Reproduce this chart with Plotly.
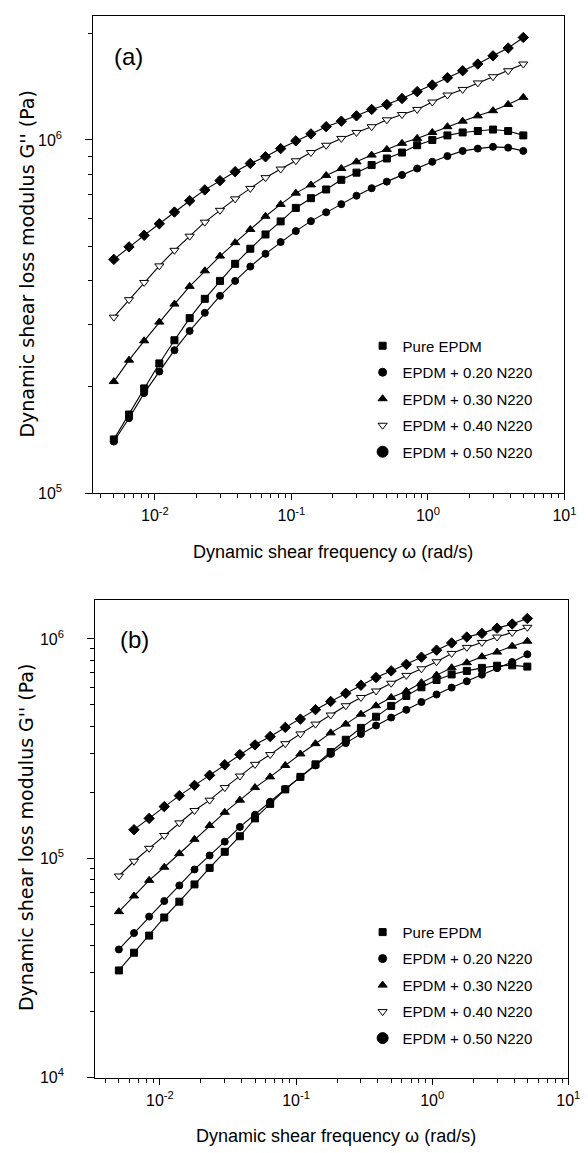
import plotly.graph_objects as go

# angular frequency, rad/s (same grid for both panels)
omega = [0.005, 0.00646, 0.00834, 0.01077, 0.0139, 0.01797, 0.0232, 0.02997, 0.0387,
         0.05, 0.0646, 0.0834, 0.1077, 0.139, 0.1797, 0.232, 0.2997, 0.387,
         0.5, 0.646, 0.834, 1.077, 1.39, 1.797, 2.32, 2.997, 3.87, 5.0]

names = ["Pure EPDM", "EPDM + 0.20 N220", "EPDM + 0.30 N220", "EPDM + 0.40 N220", "EPDM + 0.50 N220"]

# panel (a)
pure_a = [1.42e5, 1.67e5, 1.98e5, 2.33e5, 2.71e5, 3.13e5, 3.55e5, 3.99e5, 4.46e5, 4.92e5,
          5.40e5, 5.88e5, 6.42e5, 6.84e5, 7.24e5, 7.71e5, 8.08e5, 8.49e5, 8.86e5, 9.21e5,
          9.66e5, 1.00e6, 1.03e6, 1.05e6, 1.06e6, 1.07e6, 1.06e6, 1.03e6]
n20_a = [1.40e5, 1.63e5, 1.92e5, 2.21e5, 2.54e5, 2.88e5, 3.24e5, 3.62e5, 3.99e5, 4.38e5,
         4.76e5, 5.14e5, 5.52e5, 5.89e5, 6.24e5, 6.58e5, 6.95e5, 7.30e5, 7.62e5, 7.96e5,
         8.30e5, 8.67e5, 9.00e5, 9.31e5, 9.45e5, 9.56e5, 9.51e5, 9.31e5]
n30_a = [2.07e5, 2.38e5, 2.70e5, 3.05e5, 3.43e5, 3.85e5, 4.26e5, 4.69e5, 5.12e5, 5.58e5,
         6.08e5, 6.57e5, 7.07e5, 7.46e5, 7.93e5, 8.30e5, 8.67e5, 9.06e5, 9.40e5, 9.78e5,
         1.01e6, 1.05e6, 1.09e6, 1.13e6, 1.17e6, 1.21e6, 1.26e6, 1.32e6]
n40_a = [3.15e5, 3.53e5, 3.95e5, 4.40e5, 4.87e5, 5.34e5, 5.85e5, 6.32e5, 6.81e5, 7.29e5,
         7.82e5, 8.27e5, 8.73e5, 9.21e5, 9.66e5, 1.01e6, 1.05e6, 1.09e6, 1.14e6, 1.18e6,
         1.22e6, 1.28e6, 1.34e6, 1.39e6, 1.45e6, 1.51e6, 1.57e6, 1.64e6]
n50_a = [4.59e5, 4.98e5, 5.37e5, 5.79e5, 6.25e5, 6.73e5, 7.22e5, 7.67e5, 8.13e5, 8.58e5,
         8.96e5, 9.45e5, 9.94e5, 1.04e6, 1.09e6, 1.13e6, 1.17e6, 1.22e6, 1.26e6, 1.31e6,
         1.37e6, 1.43e6, 1.50e6, 1.57e6, 1.64e6, 1.73e6, 1.82e6, 1.95e6]

# panel (b)
pure_b = [3.08e4, 3.71e4, 4.44e4, 5.37e4, 6.34e4, 7.60e4, 9.04e4, 1.07e5, 1.26e5, 1.52e5,
          1.77e5, 2.06e5, 2.35e5, 2.68e5, 3.05e5, 3.47e5, 3.93e5, 4.42e5, 4.95e5, 5.50e5,
          6.02e5, 6.50e5, 6.89e5, 7.15e5, 7.38e5, 7.55e5, 7.58e5, 7.48e5]
n20_b = [3.84e4, 4.56e4, 5.42e4, 6.38e4, 7.52e4, 8.89e4, 1.03e5, 1.19e5, 1.39e5, 1.58e5,
         1.81e5, 2.07e5, 2.35e5, 2.65e5, 2.99e5, 3.35e5, 3.69e5, 4.03e5, 4.38e5, 4.75e5,
         5.16e5, 5.58e5, 6.00e5, 6.41e5, 6.87e5, 7.36e5, 7.85e5, 8.51e5]
n30_b = [5.71e4, 6.73e4, 7.93e4, 9.10e4, 1.05e5, 1.22e5, 1.41e5, 1.62e5, 1.84e5, 2.10e5,
         2.35e5, 2.65e5, 2.99e5, 3.33e5, 3.73e5, 4.09e5, 4.54e5, 4.96e5, 5.41e5, 5.78e5,
         6.32e5, 6.84e5, 7.39e5, 7.79e5, 8.30e5, 8.71e5, 9.27e5, 9.76e5]
n40_b = [8.30e4, 9.69e4, 1.11e5, 1.27e5, 1.45e5, 1.65e5, 1.84e5, 2.10e5, 2.37e5, 2.68e5,
         2.97e5, 3.33e5, 3.69e5, 4.09e5, 4.50e5, 4.96e5, 5.41e5, 5.79e5, 6.28e5, 6.82e5,
         7.31e5, 7.87e5, 8.59e5, 9.15e5, 9.64e5, 1.02e6, 1.07e6, 1.13e6]
n50_b = [None, 1.35e5, 1.52e5, 1.72e5, 1.93e5, 2.15e5, 2.39e5, 2.67e5, 2.97e5, 3.29e5,
         3.59e5, 3.95e5, 4.31e5, 4.76e5, 5.19e5, 5.65e5, 6.15e5, 6.67e5, 7.15e5, 7.66e5,
         8.26e5, 8.89e5, 9.59e5, 1.02e6, 1.06e6, 1.12e6, 1.17e6, 1.24e6]

W, H = 588, 1153
FONT = "Liberation Sans, Arial, sans-serif"

# marker style per series: (symbol, size, fill) for data, and what the key shows
data_sym = [("square", 7, "black"), ("circle", 7, "black"), ("triangle-up", 8, "black"),
            ("triangle-down", 8, "white"), ("diamond", 8, "black")]
leg_sym = [("square", 7, "black"), ("circle", 8, "black"), ("triangle-up", 8, "black"),
           ("triangle-down", 8, "white"), ("circle", 11, "black")]

fig = go.Figure()

panels = [
    ([pure_a, n20_a, n30_a, n40_a, n50_a], "x", "y", "legend"),
    ([pure_b, n20_b, n30_b, n40_b, n50_b], "x2", "y2", "legend2"),
]
for series, xa, ya, lg in panels:
    for k, vals in enumerate(series):
        sym, sz, fc = data_sym[k]
        fig.add_trace(go.Scatter(
            x=omega, y=vals, mode="lines+markers", xaxis=xa, yaxis=ya, showlegend=False,
            line=dict(color="black", width=1.1),
            marker=dict(symbol=sym, size=sz, color=fc, line=dict(color="black", width=1))))
    for k, nm in enumerate(names):
        sym, sz, fc = leg_sym[k]
        fig.add_trace(go.Scatter(
            x=[None], y=[None], mode="markers", name=nm, xaxis=xa, yaxis=ya, legend=lg,
            legendgroup=lg + str(k),
            marker=dict(symbol=sym, size=sz, color=fc, line=dict(color="black", width=1))))

minor_x = [m * 10.0 ** e for e in range(-3, 1) for m in range(2, 10)]
minor_y = [m * 10.0 ** e for e in range(4, 7) for m in range(2, 10)]

def xaxis(dom, rng):
    return dict(type="log", domain=dom, range=rng, showline=True, linecolor="black", linewidth=1,
                mirror=True, showgrid=False, zeroline=False, ticks="outside", ticklen=6,
                tickcolor="black", tickmode="array", tickvals=[0.01, 0.1, 1, 10],
                ticktext=["10<sup>-2</sup>", "10<sup>-1</sup>", "10<sup>0</sup>", "10<sup>1</sup>"],
                tickfont=dict(size=16, color="black", family=FONT), ticklabelstandoff=2,
                minor=dict(ticks="outside", ticklen=4, tickcolor="black", tickmode="array",
                           tickvals=minor_x, showgrid=False))

def yaxis(dom, rng, tv, tt, anchor):
    return dict(type="log", domain=dom, range=rng, anchor=anchor, showline=True, linecolor="black",
                linewidth=1, mirror=True, showgrid=False, zeroline=False, ticks="outside",
                ticklen=7, tickcolor="black", tickmode="array", tickvals=tv, ticktext=tt,
                tickfont=dict(size=16, color="black", family=FONT), ticklabelstandoff=20,
                minor=dict(ticks="outside", ticklen=4, tickcolor="black", tickmode="array",
                           tickvals=minor_y, showgrid=False))

legend_style = dict(xanchor="left", yanchor="top", bgcolor="rgba(0,0,0,0)",
                    font=dict(size=15, family=FONT, color="black"), tracegroupgap=4, itemwidth=30)

fig.update_layout(
    width=W, height=H, margin=dict(l=0, r=0, t=0, b=0),
    paper_bgcolor="white", plot_bgcolor="white",
    font=dict(family=FONT, color="black"),
    xaxis=xaxis([87 / W, 568 / W], [-2.452, 1]),
    yaxis=yaxis([1 - 489 / H, 1 - 8 / H], [5, 6.351], [1e5, 1e6],
                ["10<sup>5</sup>", "10<sup>6</sup>"], "x"),
    xaxis2=dict(xaxis([89 / W, 572 / W], [-2.475, 1]), anchor="y2"),
    yaxis2=yaxis([1 - 1078 / H, 1 - 597 / H], [4, 6.176], [1e4, 1e5, 1e6],
                 ["10<sup>4</sup>", "10<sup>5</sup>", "10<sup>6</sup>"], "x2"),
    legend=dict(legend_style, x=362 / W, y=1 - 324 / H),
    legend2=dict(legend_style, x=362 / W, y=1 - 915 / H),
)

ann = [
    ("(a)", 123, 49, 0, 24, FONT),
    ("(b)", 129, 636, 0, 24, FONT),
    ("Dynamic shear frequency \u03c9 (rad/s)", 332, 548, 0, 18, FONT),
    ("Dynamic shear frequency \u03c9 (rad/s)", 335, 1137, 0, 18, FONT),
    ("Dynamic shear loss modulus G'' (Pa)", 19, 258, -90, 19, "DejaVu Sans, sans-serif"),
    ("Dynamic shear loss modulus G'' (Pa)", 19, 836, -90, 19, "DejaVu Sans, sans-serif"),
]
for txt, px, py, ang, sz, fam in ann:
    fig.add_annotation(text=txt, xref="paper", yref="paper", x=px / W, y=1 - py / H,
                       showarrow=False, xanchor="center", yanchor="middle", textangle=ang,
                       font=dict(size=sz, family=fam, color="black"))

fig.write_html("out.html")
